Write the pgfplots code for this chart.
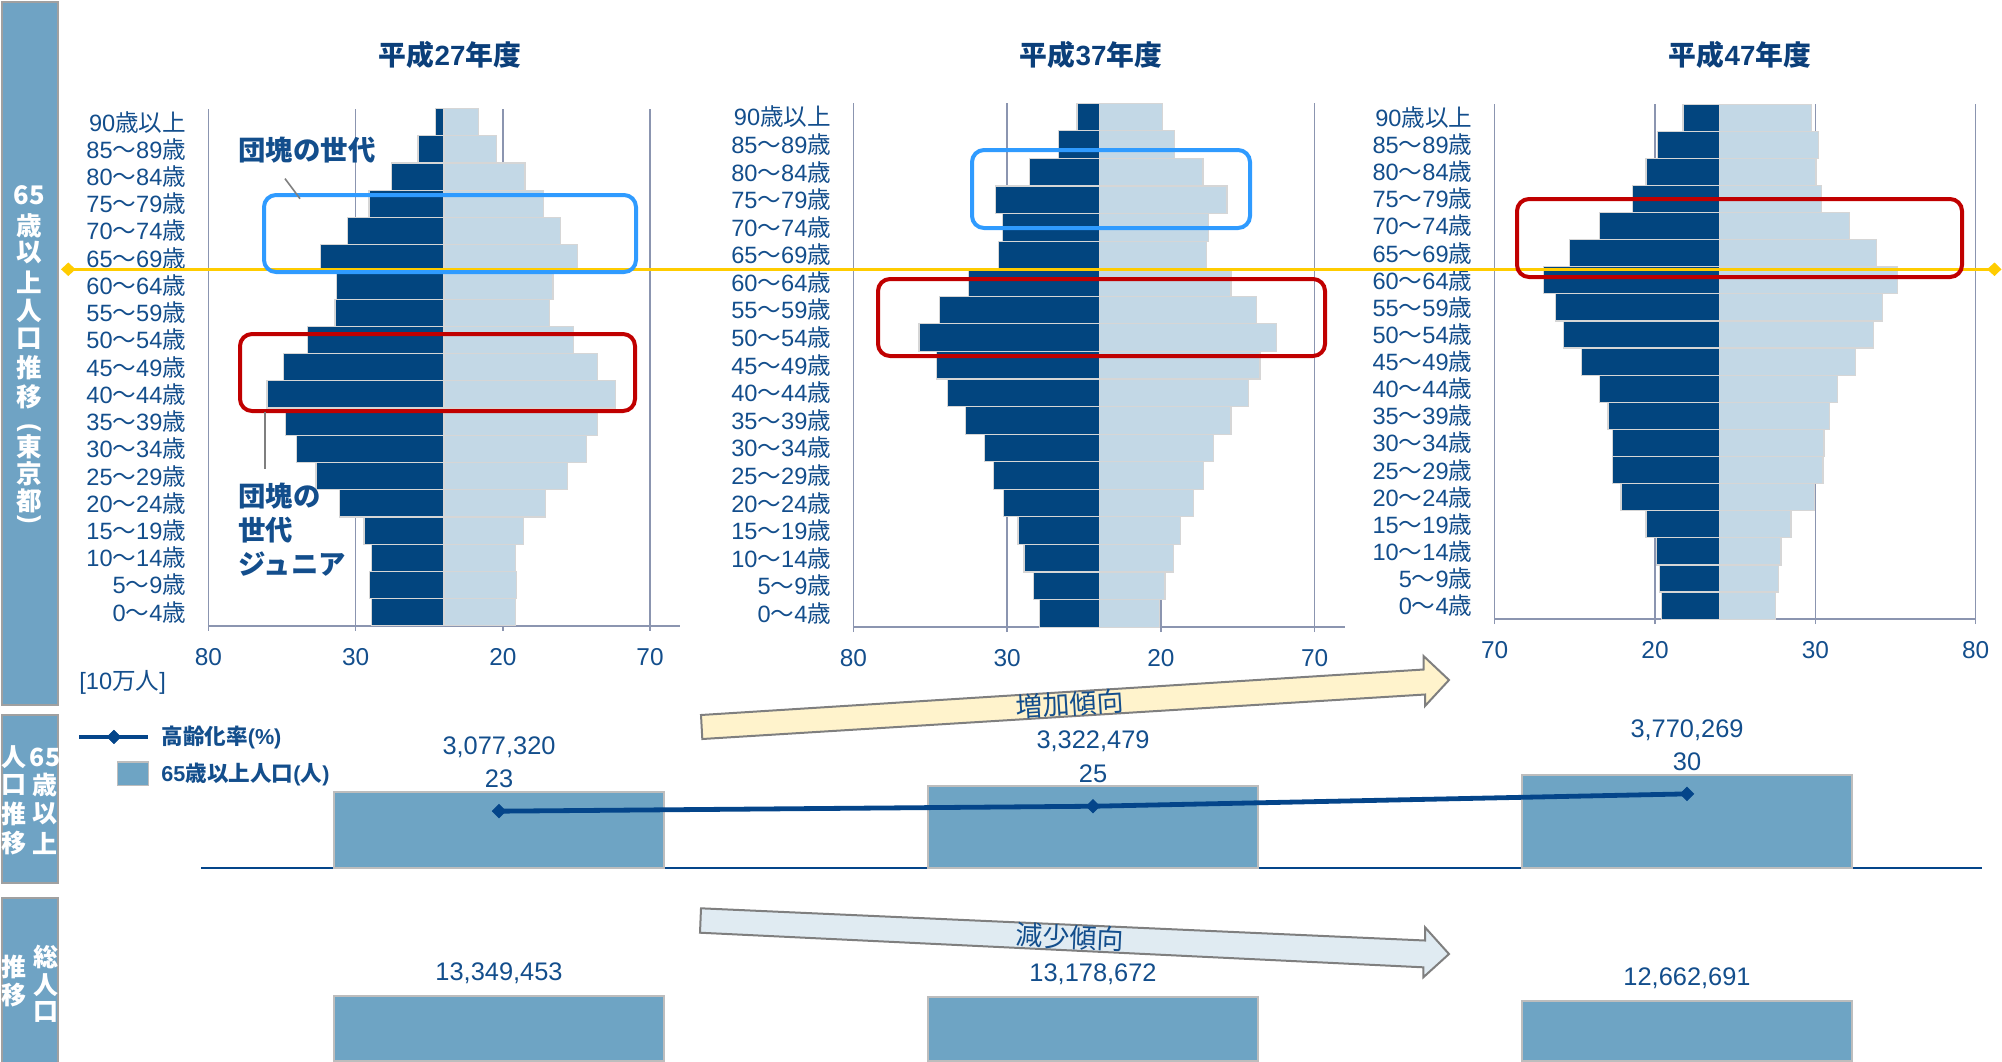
\documentclass[border=0pt]{standalone}
\usepackage{pgfplots}
\usepackage{pgfplotstable}
\pgfplotsset{compat=1.18}
\usepackage{fontspec}
\setmainfont{Liberation Sans}
\newfontfamily\cjk{Noto Sans CJK JP}
\newcommand\kara{{\cjk ～}}
\newcommand\sai{{\cjk 歳}}
\newcommand\fs[1]{\fontsize{#1pt}{#1pt}\selectfont}
\definecolor{darkbar}{HTML}{02457F}
\definecolor{lightbar}{HTML}{C3D8E6}
\definecolor{edgegray}{HTML}{D6D6D6}
\definecolor{gridc}{HTML}{8B95B0}
\definecolor{txtblue}{HTML}{134E8C}
\definecolor{titleblue}{HTML}{0B3F7A}
\definecolor{sidefill}{HTML}{6FA3C4}
\definecolor{sidedraw}{HTML}{A0A0A0}
\definecolor{yline}{HTML}{FFCC00}
\definecolor{bframe}{HTML}{2F9BFF}
\definecolor{rframe}{HTML}{C00000}
\definecolor{barfill}{HTML}{6EA4C4}
\definecolor{bargray}{HTML}{BDBDBD}
\definecolor{linecol}{HTML}{04458A}
\definecolor{arrY}{HTML}{FFF3CC}
\definecolor{arrB}{HTML}{E0EBF2}
\definecolor{arredge}{HTML}{7F7F7F}

% age groups: a = 0 (0-4) ... 18 (90+); m = male (negative, 万人), f = female
\pgfplotstableread{
a m f
0 -24.6 24.2
1 -25.4 24.6
2 -24.6 24.2
3 -27.2 26.9
4 -35.5 34.5
5 -43.5 41.9
6 -50.2 48.4
7 -53.9 52.1
8 -60.1 58.2
9 -54.4 52.1
10 -46.4 44.1
11 -37.0 35.8
12 -36.6 37.0
13 -42.0 45.3
14 -32.9 39.6
15 -25.5 33.8
16 -17.8 27.5
17 -8.8 17.7
18 -3.0 11.6
}\pA
\pgfplotstableread{
a m f
0 -19.5 19.5
1 -21.5 21.3
2 -24.5 24.2
3 -26.5 26.4
4 -31.2 30.7
5 -34.5 33.8
6 -37.4 37.0
7 -43.5 42.8
8 -49.4 48.6
9 -53.0 52.2
10 -58.7 57.6
11 -52.0 51.2
12 -42.7 42.8
13 -32.8 34.7
14 -31.4 35.4
15 -33.8 41.5
16 -22.8 33.7
17 -13.3 24.4
18 -7.3 20.6
}\pB
\pgfplotstableread{
a m f
0 -17.9 17.5
1 -18.7 18.5
2 -19.6 19.3
3 -22.8 22.4
4 -30.6 29.8
5 -33.2 32.4
6 -33.2 32.7
7 -34.7 34.3
8 -37.3 36.9
9 -43.0 42.5
10 -48.5 48.1
11 -51.1 50.8
12 -54.7 55.6
13 -46.8 49.0
14 -37.3 40.6
15 -27.1 31.8
16 -22.8 30.2
17 -19.3 31.0
18 -11.3 28.9
}\pC

\pgfplotsset{
 pyr/.style={
  scale only axis, anchor=south west,
  xbar, bar width=1, bar shift=0pt,
  ymin=-0.5, ymax=18.5, ytick={0,...,18},
  yticklabels={0\kara 4\sai,5\kara 9\sai,10\kara 14\sai,15\kara 19\sai,20\kara 24\sai,25\kara 29\sai,30\kara 34\sai,35\kara 39\sai,40\kara 44\sai,45\kara 49\sai,50\kara 54\sai,55\kara 59\sai,60\kara 64\sai,65\kara 69\sai,70\kara 74\sai,75\kara 79\sai,80\kara 84\sai,85\kara 89\sai,90{\cjk 歳以上}},
  axis x line*=bottom, axis y line*=left,
  axis line style={gridc, line width=0.75pt},
  xmajorgrids, major grid style={gridc, line width=0.75pt},
  tick align=outside, major tick length=2.5pt,
  xtick style={gridc, line width=0.75pt},
  ytick style={draw=none},
  extra x ticks={0}, extra x tick labels={},
  extra x tick style={grid=major, major grid style={gridc, line width=1pt}, tick style={draw=none}},
  xticklabel style={font=\fs{12.2}, text=txtblue, anchor=north, inner sep=0pt, yshift=-8.5pt},
  yticklabel style={font=\fs{11.8}, text=txtblue, anchor=east, inner sep=0pt, xshift=-8.5pt},
  every axis plot/.append style={draw=edgegray, line width=0.6pt},
 },
 mylineleg/.style={legend image code/.code={\draw[mark repeat=2,mark phase=2,##1] plot coordinates {(0pt,0pt) (17.25pt,0pt) (34.5pt,0pt)};}},
 mybarleg/.style={legend image code/.code={\path[draw=none] (0pt,0pt) -- (34.5pt,0pt); \draw[fill=barfill, draw=bargray, line width=0.8pt] (19pt,-5.85pt) rectangle (34.5pt,5.85pt);}},
}

\begin{document}
\begin{tikzpicture}
\useasboundingbox (0pt,0pt) rectangle (1001pt,-530.5pt);
\clip (0pt,0pt) rectangle (1001pt,-530.5pt);
\begin{scope}[x=0.5pt,y=-0.5pt]
 \coordinate (P1) at (208.5,625.9);
 \coordinate (P2) at (853.4,627.2);
 \coordinate (P3) at (1494.7,619.2);
 \coordinate (S2) at (201,868);
 \coordinate (S3) at (201,1061);
 % side bars
 \draw[fill=sidefill, draw=sidedraw, line width=0.8pt] (2,2) rectangle (58,705);
 \draw[fill=sidefill, draw=sidedraw, line width=0.8pt] (2,715) rectangle (58,883);
 \draw[fill=sidefill, draw=sidedraw, line width=0.8pt] (2,898) rectangle (58,1075);
 \foreach \c/\yy in {65/195,歳/225.4,以/253,上/282,人/311,口/339,推/368,移/397,東/447,京/474,都/501}
   \node[text=white, font=\fs{12.8}\bfseries\cjk, inner sep=0pt] at (29,\yy) {\c};
 \node[text=white, font=\fs{12.8}\bfseries, inner sep=0pt, rotate=-90] at (29,428) {(};
 \node[text=white, font=\fs{12.8}\bfseries, inner sep=0pt, rotate=-90] at (29,520) {)};
 \foreach \c/\yy in {65/757,歳/785,以/814,上/843}
   \node[text=white, font=\fs{12.5}\bfseries\cjk, inner sep=0pt] at (45,\yy) {\c};
 \foreach \c/\yy in {人/757,口/785,推/814,移/843}
   \node[text=white, font=\fs{12.5}\bfseries\cjk, inner sep=0pt] at (14,\yy) {\c};
 \foreach \c/\yy in {総/957,人/985,口/1012}
   \node[text=white, font=\fs{12.5}\bfseries\cjk, inner sep=0pt] at (46,\yy) {\c};
 \foreach \c/\yy in {推/967,移/995}
   \node[text=white, font=\fs{12.5}\bfseries\cjk, inner sep=0pt] at (14,\yy) {\c};
\end{scope}

% ---------- pyramids ----------
\begin{axis}[pyr, at={(P1)}, width=235.5pt, height=258.7pt,
  xmin=-80, xmax=80, xtick={-80,-30,20,70}, xticklabels={80,30,20,70}]
 \addplot[fill=darkbar] table[x=m,y=a] {\pA};
 \addplot[fill=lightbar] table[x=f,y=a] {\pA};
\end{axis}
\begin{axis}[pyr, at={(P2)}, width=246pt, height=262pt,
  xmin=-80, xmax=80, xtick={-80,-30,20,70}, xticklabels={80,30,20,70}]
 \addplot[fill=darkbar] table[x=m,y=a] {\pB};
 \addplot[fill=lightbar] table[x=f,y=a] {\pB};
\end{axis}
\begin{axis}[pyr, at={(P3)}, width=240.5pt, height=257.6pt,
  xmin=-70, xmax=80, xtick={-70,-20,30,80}, xticklabels={70,20,30,80}]
 \addplot[fill=darkbar] table[x=m,y=a] {\pC};
 \addplot[fill=lightbar] table[x=f,y=a] {\pC};
\end{axis}

% ---------- 65+ population bars ----------
\begin{axis}[ybar, at={(S2)}, anchor=south west, scale only axis, width=890.5pt, height=84pt,
  xmin=-0.5017, xmax=2.4966, ymin=0, ymax=6829000,
  axis x line*=bottom, axis y line=none, xtick=\empty, ytick=\empty,
  axis line style={linecol, line width=1pt},
  bar width=0.5547, clip=false,
  point meta=explicit symbolic, nodes near coords={\pgfplotspointmeta},
  every node near coord/.append style={anchor=center, yshift=22.5pt, font=\fs{12.7}, text=txtblue, inner sep=0pt}]
 \addplot[fill=barfill, draw=bargray, line width=0.9pt] coordinates {(0,3077320) [3,077,320] (1,3322479) [3,322,479] (2,3770269) [3,770,269]};
\end{axis}
% ---------- aging rate line ----------
\begin{axis}[at={(S2)}, anchor=south west, scale only axis, width=890.5pt, height=84pt,
  xmin=-0.5017, xmax=2.4966, ymin=0, ymax=68, hide axis, clip=false,
  /pgf/number format/assume math mode=true,
  legend cell align=left,
  legend style={at={(-0.0696,0.844)}, anchor=north west, draw=none, fill=none,
    inner sep=0pt, outer sep=0pt, row sep=6.7pt, column sep=5.3pt,
    nodes={inner sep=0pt, font=\fs{10.8}\bfseries, text=txtblue}}]
 \addplot[linecol, line width=2.4pt, mark=square*, mark size=2.4pt,
   mark options={rotate=45, line width=0.3pt, fill=linecol},
   mylineleg,
   nodes near coords={\pgfmathprintnumber[assume math mode=true]{\pgfplotspointmeta}},
   every node near coord/.append style={anchor=center, yshift=16pt, font=\fs{12.7}, text=txtblue, inner sep=0pt}]
   coordinates {(0,23) (1,25) (2,30)};
 \addlegendentry{{\cjk 高齢化率}(\%)}
 \addlegendimage{mybarleg}
 \addlegendentry{65{\cjk 歳以上人口}({\cjk 人})}
\end{axis}

% ---------- total population bars ----------
\begin{axis}[ybar, at={(S3)}, anchor=south west, scale only axis, width=890.5pt, height=80.5pt,
  xmin=-0.5017, xmax=2.4966, ymin=4380000, ymax=26500000, hide axis,
  bar width=0.5547,
  point meta=explicit symbolic, nodes near coords={\pgfplotspointmeta},
  every node near coord/.append style={anchor=center, yshift=11.2pt, font=\fs{12.7}, text=txtblue, inner sep=0pt}]
 \addplot[fill=barfill, draw=bargray, line width=0.9pt] coordinates {(0,13349453) [13,349,453] (1,13178672) [13,178,672] (2,12662691) [12,662,691]};
\end{axis}

% ---------- decorations ----------
\begin{scope}[x=0.5pt,y=-0.5pt]
 \node[font=\fs{13.9}\bfseries, text=titleblue] at (450,55) {{\cjk 平成}27{\cjk 年度}};
 \node[font=\fs{13.9}\bfseries, text=titleblue] at (1091,55) {{\cjk 平成}37{\cjk 年度}};
 \node[font=\fs{13.9}\bfseries, text=titleblue] at (1740,55) {{\cjk 平成}47{\cjk 年度}};
 \node[anchor=west, inner sep=0pt, font=\fs{11.8}, text=txtblue] at (79,682) {[10{\cjk 万人}]};
 % yellow 65 line
 \draw[yline, line width=1.7pt] (68,269.3) -- (1994,269.3);
 \fill[yline] (61,269.3) -- (68.3,262.5) -- (75.5,269.3) -- (68.3,276) -- cycle;
 \fill[yline] (1987,269.3) -- (1994.5,262.5) -- (2001.5,269.3) -- (1994.5,276) -- cycle;
 % frames
 \draw[bframe, line width=2pt, rounded corners=6pt] (264,195) rectangle (636,272);
 \draw[rframe, line width=2pt, rounded corners=6pt] (240,334) rectangle (635,411);
 \draw[bframe, line width=2pt, rounded corners=6pt] (972,150) rectangle (1250,228);
 \draw[rframe, line width=2pt, rounded corners=6pt] (878,279) rectangle (1325,356);
 \draw[rframe, line width=2pt, rounded corners=6pt] (1517,199) rectangle (1962,277);
 % annotations
 \node[anchor=west, inner sep=0pt, font=\fs{13.7}\bfseries\cjk, text=txtblue] at (238,150) {団塊の世代};
 \draw[arredge, line width=0.8pt] (285,178.6) -- (300,198.7);
 \node[anchor=west, align=left, inner sep=0pt, font=\fontsize{13.7pt}{17pt}\selectfont\bfseries\cjk, text=txtblue] at (238,529.5) {団塊の\\世代\\ジュニア};
 \draw[arredge, line width=0.8pt] (264.7,411.6) -- (264.7,468.8);
 % arrows
 \draw[fill=arrY, draw=arredge, line width=1pt, line join=miter]
   (701,715) -- (1423.5,669.5) -- (1423.5,656) -- (1449,680) -- (1425,706) -- (1425,694.5) -- (702.3,739) -- cycle;
 \node[rotate=3.56, font=\fs{13.5}\cjk, text=txtblue] at (1070,704) {増加傾向};
 \draw[fill=arrB, draw=arredge, line width=1pt, line join=miter]
   (701,908.3) -- (1425,940.5) -- (1425,927.3) -- (1449,954) -- (1423.3,977.3) -- (1423.3,967.3) -- (700,932.7) -- cycle;
 \node[rotate=-2.6, font=\fs{13.5}\cjk, text=txtblue] at (1070,937) {減少傾向};
\end{scope}
\end{tikzpicture}
\end{document}
